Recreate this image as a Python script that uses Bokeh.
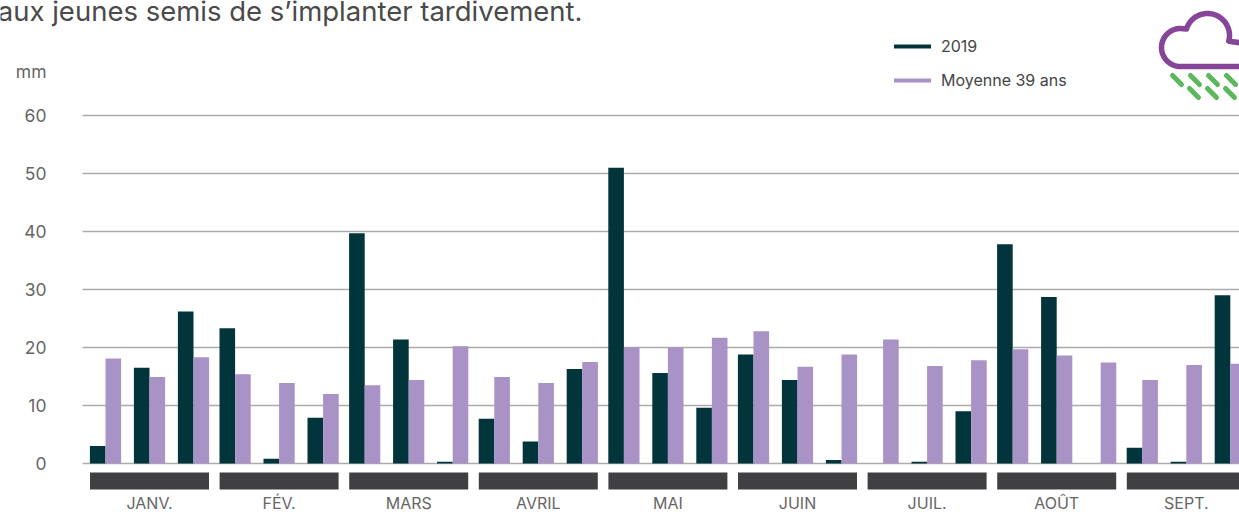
import numpy as np
from bokeh.plotting import figure
from bokeh.embed import file_html
from bokeh.resources import INLINE
from bokeh.models import (FixedTicker, Range1d, Label, Legend, LegendItem)

months = ["JANV.", "FÉV.", "MARS", "AVRIL", "MAI", "JUIN", "JUIL.", "AOÛT", "SEPT."]
y2019 = [3.0, 16.5, 26.2, 23.3, 0.8, 7.9, 39.7, 21.4, 0.3, 7.7, 3.8, 16.3, 51.0, 15.6, 9.6,
         18.8, 14.4, 0.6, 0.0, 0.3, 9.0, 37.8, 28.7, 0.0, 2.7, 0.3, 29.0]
avg39 = [18.1, 14.9, 18.3, 15.4, 13.9, 12.0, 13.5, 14.4, 20.2, 14.9, 13.9, 17.5, 20.0, 20.0, 21.7,
         22.8, 16.7, 18.8, 21.4, 16.8, 17.8, 19.7, 18.6, 17.4, 14.4, 17.0, 17.2]
y_ticks = [0, 10, 20, 30, 40, 50, 60]
title_text = "aux jeunes semis de s’implanter tardivement."
FONT = "Inter"
DARK, PURPLE, BAND = "#01343b", "#a992c6", "#404042"
TXT = "#666666"

PX_LEFT, PX_M0, PX_MONTH = 82.0, 149.0, 129.6
PX_Y0, PX_UNIT = 463.0, 5.8
W, FRAME_BOTTOM = 1239, 490

def fx(px):
    return (np.asarray(px, dtype=float) - PX_M0) / PX_MONTH

def fy(py):
    return (PX_Y0 - np.asarray(py, dtype=float)) / PX_UNIT

p = figure(frame_width=W, frame_height=FRAME_BOTTOM, output_backend="svg", toolbar_location=None,
           x_range=Range1d(float(fx(0)), float(fx(W))),
           y_range=Range1d(float(fy(FRAME_BOTTOM)), float(fy(0))),
           min_border_left=0, min_border_right=0, min_border_top=0, min_border_bottom=0,
           margin=(0, 0, 0, 0))
p.outline_line_color = None
p.background_fill_color = "white"
p.border_fill_color = "white"

# axes
p.yaxis.fixed_location = float(fx(PX_LEFT))
p.yaxis.ticker = FixedTicker(ticks=y_ticks)
p.yaxis.axis_line_color = None
p.yaxis.major_tick_line_color = None
p.yaxis.minor_tick_line_color = None
p.yaxis.major_tick_out = 0
p.yaxis.major_tick_in = 0
p.yaxis.major_label_standoff = 36
p.yaxis.major_label_text_font = FONT
p.yaxis.major_label_text_font_size = "17.5px"
p.yaxis.major_label_text_color = TXT

p.xaxis.ticker = FixedTicker(ticks=list(range(len(months))))
p.xaxis.major_label_overrides = {i: m for i, m in enumerate(months)}
p.xaxis.axis_line_color = None
p.xaxis.major_tick_line_color = None
p.xaxis.minor_tick_line_color = None
p.xaxis.major_tick_out = 0
p.xaxis.major_tick_in = 0
p.xaxis.major_label_standoff = 2
p.xaxis.major_label_text_font = FONT
p.xaxis.major_label_text_font_size = "16px"
p.xaxis.major_label_text_color = TXT

p.xgrid.visible = False
p.ygrid.ticker = FixedTicker(ticks=y_ticks)
p.ygrid.grid_line_color = "#ababab"
p.ygrid.grid_line_width = 1.5

# the grid starts right of the tick labels
p.quad(left=float(fx(-10)), right=float(fx(PX_LEFT)), bottom=float(fy(FRAME_BOTTOM)), top=float(fy(0)),
       fill_color="white", line_color=None)

# bars
dec_off = 44.0 / PX_MONTH
half = 15.6 / PX_MONTH
xs = np.array([m + d * dec_off for m in range(len(months)) for d in (-1, 0, 1)])
p.vbar(x=xs - half / 2, top=y2019, bottom=0, width=half, fill_color=DARK, line_color=None)
p.vbar(x=xs + half / 2, top=avg39, bottom=0, width=half, fill_color=PURPLE, line_color=None)

# month bands
p.vbar(x=list(range(len(months))), bottom=float(fy(489)), top=float(fy(472)), width=119.0 / PX_MONTH,
       fill_color=BAND, line_color=None)

# legend
r1 = p.line([-100, -99], [0, 0], line_color=DARK, line_width=4, line_cap="round")
r2 = p.line([-100, -99], [0, 0], line_color=PURPLE, line_width=4, line_cap="round")
legend = Legend(items=[LegendItem(label="2019", renderers=[r1]),
                       LegendItem(label="Moyenne 39 ans", renderers=[r2])],
                location=(894, 400), orientation="vertical",
                glyph_width=37, glyph_height=14, spacing=14, label_standoff=10, padding=0, margin=0,
                border_line_color=None, background_fill_alpha=0,
                label_text_font=FONT, label_text_font_size="16px", label_text_color="#444444",
                label_height=14)
p.add_layout(legend)

# cloud icon
t1 = np.radians(np.linspace(90, 270, 40))
t2 = np.radians(np.linspace(197, 375, 50))
cx = np.concatenate([[1245], 1180 + 19 * np.cos(t1), 1207 + 22 * np.cos(t2), [1245]])
cy = np.concatenate([[66], 47 + 19 * np.sin(t1), 35 + 22 * np.sin(t2), [43]])
p.line(fx(cx), fy(cy), line_color="#87459a", line_width=5.5, line_join="round", line_cap="round")
rain = [(1172, 75), (1190, 75), (1208, 75), (1226, 75), (1189, 88), (1207, 88), (1225, 88)]
p.multi_line([list(fx([a, a + 9])) for a, b in rain], [list(fy([b, b + 9])) for a, b in rain],
             line_color="#5cb85c", line_width=5, line_cap="round")

# texts
p.add_layout(Label(x=float(fx(582)), y=float(fy(10)), text=title_text, text_align="right",
                   text_baseline="alphabetic", text_font=FONT, text_font_size="27.5px", text_color="#4a4a4a"))
p.add_layout(Label(x=float(fx(46)), y=float(fy(71)), text="mm", text_align="right",
                   text_baseline="middle", text_font=FONT, text_font_size="17.5px", text_color=TXT))

open("out.html", "w").write(file_html(p, INLINE))
